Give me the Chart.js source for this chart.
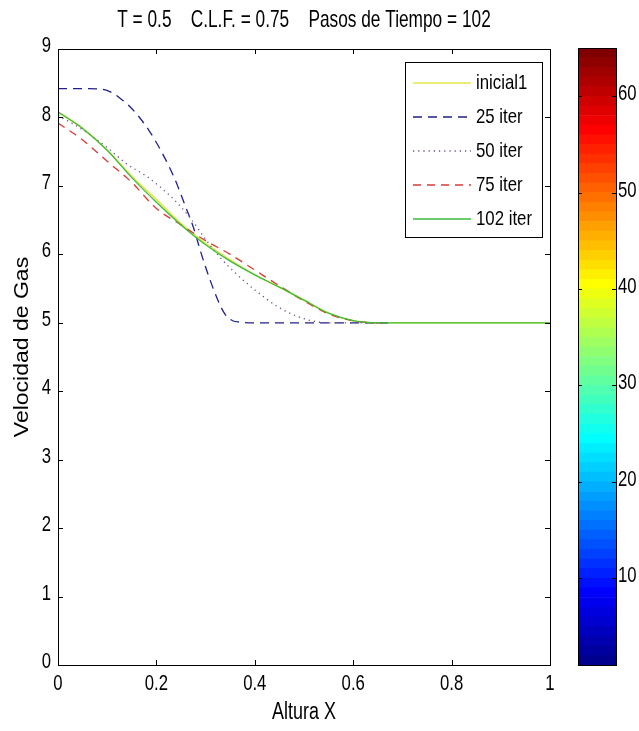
<!DOCTYPE html>
<html><head><meta charset="utf-8">
<script src="https://cdn.jsdelivr.net/npm/chart.js@4/dist/chart.umd.min.js"></script>
<style>html,body{margin:0;padding:0;background:#fff;} #wrap{position:relative;width:639px;height:731px;background:#fff;} canvas{position:absolute;left:0;top:0;}</style>
</head><body><div id="wrap"><canvas id="main" width="639" height="731"></canvas><canvas id="cbar" width="639" height="731"></canvas></div>
<script>
const titleText = 'T = 0.5    C.L.F. = 0.75    Pasos de Tiempo = 102';
const xLabel = 'Altura X';
const yLabel = 'Velocidad de Gas';
const xTicks = [0, 0.2, 0.4, 0.6, 0.8, 1];
const xTickLabels = ['0', '0.2', '0.4', '0.6', '0.8', '1'];
const yTicks = [0, 1, 2, 3, 4, 5, 6, 7, 8, 9];
const seriesNames = ['inicial1', '25 iter', '50 iter', '75 iter', '102 iter'];

const xInit = [0, 0.05, 0.1, 0.15, 0.2, 0.25, 0.3, 0.35, 0.4, 0.45, 0.5, 0.55, 0.6, 0.65, 0.7, 0.8, 0.9, 1];
const yInit = [8.08, 7.84, 7.52, 7.14, 6.8, 6.45, 6.16, 5.92, 5.7, 5.52, 5.33, 5.14, 5.03, 5.0, 5.0, 5.0, 5.0, 5.0];

const x25 = [0, 0.05, 0.09, 0.11, 0.126, 0.146, 0.184, 0.214, 0.238, 0.258, 0.275, 0.289, 0.302, 0.325, 0.34, 0.355, 0.37, 0.4, 0.5, 0.6, 0.67];
const y25 = [8.42, 8.42, 8.41, 8.36, 8.28, 8.16, 7.82, 7.45, 7.09, 6.72, 6.40, 6.06, 5.77, 5.33, 5.12, 5.03, 5.01, 5.0, 5.0, 5.0, 5.0];

const x50 = [0, 0.05, 0.1, 0.14, 0.18, 0.21, 0.24, 0.27, 0.3, 0.33, 0.36, 0.4, 0.45, 0.5, 0.55, 0.6, 0.67];
const y50 = [8.03, 7.82, 7.56, 7.32, 7.14, 6.97, 6.77, 6.52, 6.22, 5.95, 5.73, 5.48, 5.22, 5.06, 5.0, 5.0, 5.0];

const x75 = [0, 0.05, 0.1, 0.15, 0.2, 0.25, 0.3, 0.35, 0.4, 0.45, 0.5, 0.55, 0.6, 0.65, 0.67];
const y75 = [7.92, 7.67, 7.36, 7.05, 6.67, 6.43, 6.2, 6.0, 5.77, 5.54, 5.32, 5.13, 5.03, 5.0, 5.0];

const x102 = [0, 0.05, 0.1, 0.15, 0.2, 0.25, 0.3, 0.35, 0.4, 0.45, 0.5, 0.55, 0.6, 0.65, 0.7, 0.8, 0.9, 1];
const y102 = [8.08, 7.84, 7.52, 7.12, 6.76, 6.43, 6.14, 5.9, 5.7, 5.52, 5.33, 5.14, 5.03, 5.0, 5.0, 5.0, 5.0, 5.0];

const cbarTicks = [10, 20, 30, 40, 50, 60];
const cbarLevels = [1,2,3,4,5,6,7,8,9,10,11,12,13,14,15,16,17,18,19,20,21,22,23,24,25,26,27,28,29,30,31,32,33,34,35,36,37,38,39,40,41,42,43,44,45,46,47,48,49,50,51,52,53,54,55,56,57,58,59,60,61,62,63,64];

const FONT = "'Liberation Sans', Arial, sans-serif";
const toPts = (xs, ys) => xs.map((x, i) => ({x: x, y: ys[i]}));

// tall, narrow glyphs (stretched MATLAB export)
function tallText(ctx, text, x, y, align, size, sx) {
  ctx.save();
  ctx.translate(x, y);
  ctx.scale(sx, 1);
  ctx.font = size + 'px ' + FONT;
  ctx.textAlign = align; ctx.textBaseline = 'middle';
  ctx.fillStyle = '#000';
  ctx.fillText(text, 0, 0);
  ctx.restore();
}

const styles = [
  {color: '#e4e44a', dash: [], width: 1.6},
  {color: '#20208a', dash: [9, 6], width: 1.3},
  {color: '#6a4a8a', dash: [1.2, 4], width: 1.3},
  {color: '#d83a3a', dash: [8, 6], width: 1.3},
  {color: '#3cbd3c', dash: [], width: 1.3}
];
const dataArr = [toPts(xInit, yInit), toPts(x25, y25), toPts(x50, y50), toPts(x75, y75), toPts(x102, y102)];

const datasets = dataArr.map((d, i) => ({
  label: seriesNames[i], data: d, showLine: true, pointRadius: 0,
  borderColor: styles[i].color, borderDash: styles[i].dash, borderWidth: styles[i].width,
  cubicInterpolationMode: 'monotone', fill: false, order: 5 - i
}));

const PL = {left: 58, right: 550, top: 49, bottom: 665};

const matlabPlugin = {
  id: 'matlab',
  afterDraw(chart) {
    const ctx = chart.ctx, a = chart.chartArea;
    const xs = chart.scales.x, ys = chart.scales.y;
    ctx.save();
    ctx.strokeStyle = '#000'; ctx.lineWidth = 1;
    ctx.strokeRect(Math.round(a.left) + 0.5, Math.round(a.top) + 0.5, Math.round(a.right - a.left), Math.round(a.bottom - a.top));
    ctx.beginPath();
    xTicks.forEach(v => {
      const p = Math.round(xs.getPixelForValue(v)) + 0.5;
      ctx.moveTo(p, a.bottom); ctx.lineTo(p, a.bottom - 5);
      ctx.moveTo(p, a.top); ctx.lineTo(p, a.top + 5);
    });
    yTicks.forEach(v => {
      const p = Math.round(ys.getPixelForValue(v)) + 0.5;
      ctx.moveTo(a.left, p); ctx.lineTo(a.left + 5, p);
      ctx.moveTo(a.right, p); ctx.lineTo(a.right - 5, p);
    });
    ctx.stroke();
    // tick labels
    xTicks.forEach((v, i) => tallText(ctx, xTickLabels[i], xs.getPixelForValue(v), a.bottom + 19, 'center', 22, 0.76));
    yTicks.forEach(v => tallText(ctx, String(v), a.left - 7, ys.getPixelForValue(v) - 3, 'right', 22, 0.76));
    // title and axis titles
    tallText(ctx, titleText, (a.left + a.right) / 2, 20, 'center', 24, 0.72);
    tallText(ctx, xLabel, (a.left + a.right) / 2, 713, 'center', 23, 0.78);
    ctx.save();
    ctx.translate(22, (a.top + a.bottom) / 2 - 10);
    ctx.rotate(-Math.PI / 2);
    ctx.scale(1.15, 1);
    ctx.font = '20px ' + FONT;
    ctx.textAlign = 'center'; ctx.textBaseline = 'middle';
    ctx.fillStyle = '#000';
    ctx.fillText(yLabel, 0, 0);
    ctx.restore();
    // legend
    const lx = 405, ly = 62, lw = 137, lh = 175;
    ctx.fillStyle = '#fff';
    ctx.fillRect(lx, ly, lw, lh);
    ctx.strokeStyle = '#000'; ctx.lineWidth = 1;
    ctx.strokeRect(lx + 0.5, ly + 0.5, lw, lh);
    seriesNames.forEach((n, i) => {
      const cy = ly + 21 + i * 34;
      ctx.beginPath();
      ctx.strokeStyle = styles[i].color; ctx.lineWidth = styles[i].width;
      ctx.setLineDash(styles[i].dash);
      ctx.moveTo(413, cy); ctx.lineTo(471, cy);
      ctx.stroke();
      ctx.setLineDash([]);
      tallText(ctx, n, 476, cy, 'left', 21, 0.8);
    });
    ctx.restore();
  }
};

new Chart(document.getElementById('main'), {
  type: 'scatter',
  data: {datasets: datasets},
  options: {
    responsive: false, animation: false, devicePixelRatio: 1,
    events: [],
    layout: {padding: {left: 0, top: PL.top, right: 639 - PL.right, bottom: 0}},
    plugins: {legend: {display: false}, tooltip: {enabled: false}, title: {display: false}},
    scales: {
      x: {
        type: 'linear', min: 0, max: 1, position: 'bottom',
        afterBuildTicks: s => { s.ticks = xTicks.map(v => ({value: v})); },
        afterFit: s => { s.height = 731 - PL.bottom; },
        grid: {drawOnChartArea: false, drawTicks: false},
        border: {display: true, color: '#000'},
        ticks: {display: false}
      },
      y: {
        type: 'linear', min: 0, max: 9, position: 'left',
        afterBuildTicks: s => { s.ticks = yTicks.map(v => ({value: v})); },
        afterFit: s => { s.width = PL.left; },
        grid: {drawOnChartArea: false, drawTicks: false},
        border: {display: true, color: '#000'},
        ticks: {display: false}
      }
    }
  },
  plugins: [matlabPlugin]
});

// colorbar
function jet(level) {
  const v = level / 64;
  const c = t => Math.round(255 * Math.max(0, Math.min(1, t)));
  return 'rgb(' + c(1.5 - Math.abs(4 * v - 3)) + ',' + c(1.5 - Math.abs(4 * v - 2)) + ',' + c(1.5 - Math.abs(4 * v - 1)) + ')';
}
const CB = {left: 578, right: 616, top: 48, bottom: 665};
const cbarPlugin = {
  id: 'cbarbox',
  afterDraw(chart) {
    const ctx = chart.ctx, a = chart.chartArea, ys = chart.scales.y;
    ctx.save();
    ctx.strokeStyle = '#000'; ctx.lineWidth = 1;
    ctx.strokeRect(Math.round(a.left) + 0.5, Math.round(a.top) + 0.5, Math.round(a.right - a.left), Math.round(a.bottom - a.top));
    ctx.beginPath();
    cbarTicks.forEach(v => {
      const p = Math.round(ys.getPixelForValue(v)) + 0.5;
      ctx.moveTo(a.left, p); ctx.lineTo(a.left + 4, p);
      ctx.moveTo(a.right, p); ctx.lineTo(a.right - 4, p);
    });
    ctx.stroke();
    cbarTicks.forEach(v => tallText(ctx, String(v), a.right + 2, ys.getPixelForValue(v) - 2, 'left', 22, 0.76));
    ctx.restore();
  }
};
new Chart(document.getElementById('cbar'), {
  type: 'bar',
  data: {
    labels: ['c'],
    datasets: cbarLevels.map(l => ({data: [[l, l + 1]], backgroundColor: jet(l), borderWidth: 0, barPercentage: 1, categoryPercentage: 1}))
  },
  options: {
    responsive: false, animation: false, devicePixelRatio: 1, events: [],
    layout: {padding: {left: CB.left, top: CB.top, right: 0, bottom: 731 - CB.bottom}},
    plugins: {legend: {display: false}, tooltip: {enabled: false}},
    scales: {
      x: {display: false, stacked: true},
      y: {
        type: 'linear', min: 1, max: 65, position: 'right',
        afterBuildTicks: s => { s.ticks = cbarTicks.map(v => ({value: v})); },
        afterFit: s => { s.width = 639 - CB.right; },
        grid: {drawOnChartArea: false, drawTicks: false},
        border: {display: false},
        ticks: {display: false}
      }
    }
  },
  plugins: [cbarPlugin]
});
</script>
</body></html>
